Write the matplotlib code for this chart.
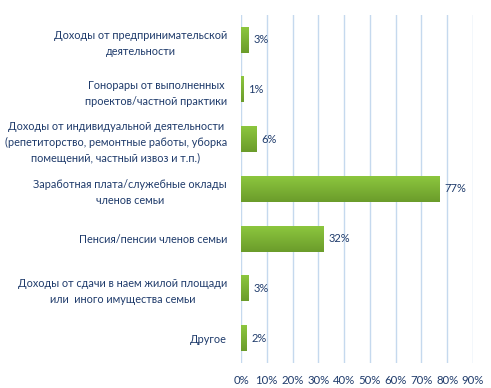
import matplotlib
matplotlib.use("Agg")
import matplotlib.pyplot as plt
import numpy as np
from matplotlib.colors import LinearSegmentedColormap

categories = [
    "Доходы от предпринимательской\nдеятельности",
    "Гонорары от выполненных\nпроектов/частной практики",
    "Доходы от индивидуальной деятельности\n(репетиторство, ремонтные работы, уборка\nпомещений, частный извоз и т.п.)",
    "Заработная плата/служебные оклады\nчленов семьи",
    "Пенсия/пенсии членов семьи",
    "Доходы от сдачи в наем жилой площади\nили  иного имущества семьи",
    "Другое",
]
values = [3, 1, 6, 77, 32, 3, 2]
x_ticks = list(range(0, 100, 10))

text_color = "#1F3B6B"
plt.rcParams["font.family"] = ["Lato", "DejaVu Sans"]

fig = plt.figure(figsize=(4.91, 3.88), dpi=100)
ax = fig.add_axes([241 / 491, 1 - 363 / 388, (473 - 241) / 491, (363 - 15) / 388])

y = np.arange(len(categories))
height = 0.52
bars = ax.barh(y, values, height=height, color="none", zorder=3)

cmap = LinearSegmentedColormap.from_list("g", ["#8CC63E", "#6B9C2B"])
grad = np.linspace(0, 1, 64).reshape(-1, 1)
for bar in bars:
    x0, y0 = bar.get_x(), bar.get_y()
    w, h = bar.get_width(), bar.get_height()
    ax.imshow(grad, cmap=cmap, aspect="auto", extent=(x0, x0 + w, y0 + h, y0),
              zorder=3, interpolation="bicubic")
    ax.text(x0 + w + 1.9, y0 + h / 2, f"{int(w)}%", va="center", ha="left",
            fontsize=8, color=text_color, zorder=4)

ax.set_xlim(0, 90)
ax.set_ylim(len(categories) - 0.5, -0.5)
ax.set_xticks(x_ticks)
ax.set_xticklabels([f"{t}%" for t in x_ticks], fontsize=8.2, color=text_color)
ax.set_yticks(y)
ax.set_yticklabels(categories, fontsize=7.8, color=text_color, ha="right",
                   multialignment="center", linespacing=1.55)
ax.tick_params(axis="both", length=0)
ax.tick_params(axis="y", pad=10)
ax.tick_params(axis="x", pad=9)
ax.grid(axis="x", color="#C5D9EE", linewidth=1, zorder=0)
for spine in ax.spines.values():
    spine.set_visible(False)

fig.savefig("out.png", dpi=100)
